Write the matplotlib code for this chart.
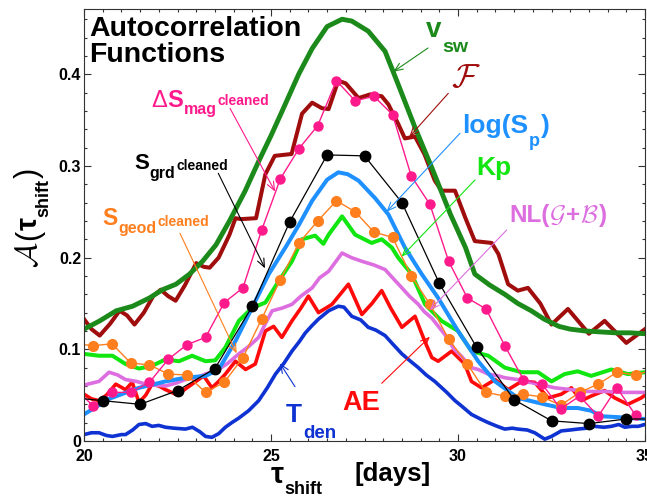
import matplotlib
matplotlib.use('Agg')
import matplotlib.pyplot as plt
from matplotlib.ticker import MultipleLocator

W, H = 647, 497

# ---- data (tau_shift in days, autocorrelation) ----
half_days = [20.25, 20.75, 21.25, 21.75, 22.25, 22.75, 23.25, 23.75, 24.25, 24.75,
             25.25, 25.75, 26.25, 26.75, 27.25, 27.75, 28.25, 28.75, 29.25, 29.75,
             30.25, 30.75, 31.25, 31.75, 32.25, 32.75, 33.25, 33.75, 34.25, 34.75]

vsw_x = [20.0, 20.42, 20.86, 21.3, 21.75, 22.1, 22.46, 22.82, 23.17, 23.53, 23.89, 24.3,
         24.67, 25.0, 25.3, 25.74, 26.1, 26.5, 26.9, 27.16, 27.6, 28.05, 28.4, 28.85,
         29.3, 29.8, 30.2, 30.45, 30.85, 31.25, 31.6, 31.96, 32.3, 32.7, 33.0, 33.4,
         33.8, 34.2, 34.6, 35.0]
vsw_y = [0.122, 0.131, 0.142, 0.147, 0.156, 0.165, 0.171, 0.182, 0.196, 0.214, 0.240, 0.272,
         0.305, 0.333, 0.360, 0.400, 0.428, 0.452, 0.460, 0.458, 0.447, 0.425, 0.389, 0.342,
         0.298, 0.247, 0.211, 0.182, 0.170, 0.160, 0.150, 0.142, 0.133, 0.125, 0.122, 0.120,
         0.119, 0.118, 0.118, 0.117]

f_x = [20.0, 20.2, 20.42, 20.7, 20.95, 21.15, 21.35, 21.6, 21.85, 22.05, 22.25, 22.45,
       22.7, 23.0, 23.2, 23.36, 23.6, 23.89, 24.05, 24.2, 24.6, 24.85, 25.1, 25.55,
       25.83, 26.1, 26.36, 26.54, 26.8, 27.0, 27.34, 27.65, 27.96, 28.14, 28.4, 28.58,
       28.85, 29.1, 29.38, 29.56, 29.92, 30.2, 30.45, 30.9, 31.08, 31.34, 31.6, 31.87,
       32.2, 32.5, 32.94, 33.5, 33.92, 34.5, 35.0]
f_y = [0.133, 0.122, 0.115, 0.128, 0.142, 0.137, 0.127, 0.140, 0.158, 0.165, 0.158, 0.153,
       0.170, 0.194, 0.190, 0.189, 0.200, 0.225, 0.243, 0.242, 0.243, 0.291, 0.311, 0.313,
       0.357, 0.369, 0.363, 0.362, 0.393, 0.390, 0.374, 0.378, 0.376, 0.367, 0.346, 0.330,
       0.332, 0.313, 0.284, 0.273, 0.273, 0.243, 0.218, 0.216, 0.204, 0.171, 0.164, 0.167,
       0.150, 0.127, 0.144, 0.117, 0.131, 0.107, 0.122]

mag_x = [20.0] + half_days
mag_y = [0.048, 0.038, 0.053, 0.053, 0.064, 0.089, 0.105, 0.113, 0.151, 0.167, 0.230,
         0.286, 0.319, 0.344, 0.393, 0.371, 0.376, 0.356, 0.289, 0.258, 0.196,
         0.156, 0.144, 0.104, 0.067, 0.062, 0.035, 0.049, 0.027, 0.058, 0.028]

grd_x = [20.0, 20.5, 21.5, 22.5, 23.5, 24.5, 25.5, 26.5, 27.5, 28.5, 29.5, 30.5,
         31.5, 32.5, 33.5, 34.5, 35.0]
grd_y = [0.046, 0.044, 0.040, 0.055, 0.079, 0.147, 0.239, 0.312, 0.311, 0.260, 0.172, 0.102,
         0.045, 0.022, 0.019, 0.024, 0.024]

geod_x = [20.0] + half_days + [35.0]
geod_y = [0.105, 0.104, 0.106, 0.085, 0.083, 0.073, 0.072, 0.053, 0.064, 0.091, 0.133,
          0.176, 0.216, 0.240, 0.262, 0.250, 0.228, 0.222, 0.180, 0.149, 0.111,
          0.084, 0.053, 0.049, 0.051, 0.048, 0.039, 0.053, 0.062, 0.075, 0.072, 0.075]

logsp_x = [20.0, 20.67, 21.47, 22.18, 22.71, 23.25, 23.6, 24.05, 24.49, 24.94, 25.4, 25.75,
           26.1, 26.5, 26.8, 27.05, 27.34, 27.78, 28.14, 28.58, 29.03, 29.47, 30.0, 30.54,
           30.99, 31.6, 32.32, 32.76, 33.2, 33.56, 33.83, 34.28, 35.0]
logsp_y = [0.029, 0.046, 0.058, 0.065, 0.069, 0.071, 0.078, 0.109, 0.145, 0.182, 0.212, 0.236,
           0.262, 0.285, 0.293, 0.291, 0.284, 0.265, 0.247, 0.211, 0.182, 0.156, 0.120, 0.087,
           0.065, 0.047, 0.040, 0.036, 0.036, 0.033, 0.027, 0.026, 0.024]

kp_x = [20.0, 20.4, 20.76, 21.11, 21.47, 21.82, 22.18, 22.54, 22.89, 23.25, 23.51, 23.78,
        24.14, 24.49, 24.85, 25.2, 25.56, 25.83, 26.18, 26.4, 26.54, 26.9, 27.25, 27.69,
        27.96, 28.23, 28.4, 28.76, 29.12, 29.56, 30.0, 30.36, 30.81, 31.25, 31.7, 32.14,
        32.5, 32.85, 33.2, 33.56, 34.1, 34.54, 35.0]
kp_y = [0.095, 0.093, 0.093, 0.084, 0.079, 0.082, 0.089, 0.087, 0.093, 0.087, 0.088, 0.102,
        0.131, 0.145, 0.151, 0.174, 0.196, 0.220, 0.224, 0.215, 0.225, 0.245, 0.225, 0.216,
        0.220, 0.211, 0.200, 0.182, 0.149, 0.131, 0.120, 0.098, 0.093, 0.080, 0.075, 0.075,
        0.065, 0.073, 0.076, 0.071, 0.078, 0.073, 0.075]

nl_x = [20.0, 20.4, 20.67, 20.9, 21.11, 21.4, 21.65, 21.9, 22.18, 22.45, 22.71, 23.0,
        23.25, 23.6, 23.85, 24.14, 24.4, 24.67, 24.85, 25.03, 25.3, 25.56, 25.8, 26.1,
        26.3, 26.54, 26.9, 27.15, 27.43, 27.75, 28.05, 28.25, 28.5, 28.7, 28.94, 29.1,
        29.3, 29.65, 29.9, 30.1, 30.36, 30.54, 30.81, 31.08, 31.25, 31.6, 32.14, 32.59,
        33.03, 33.47, 33.92, 34.46, 35.0]
nl_y = [0.061, 0.065, 0.075, 0.072, 0.067, 0.065, 0.062, 0.061, 0.060, 0.063, 0.067, 0.069,
        0.073, 0.078, 0.085, 0.095, 0.103, 0.113, 0.128, 0.142, 0.145, 0.149, 0.158, 0.167,
        0.178, 0.185, 0.205, 0.200, 0.196, 0.192, 0.187, 0.178, 0.167, 0.158, 0.149, 0.141,
        0.134, 0.116, 0.100, 0.092, 0.080, 0.078, 0.073, 0.071, 0.069, 0.067, 0.062, 0.058,
        0.056, 0.054, 0.054, 0.053, 0.053]

ae_x = [20.0, 20.2, 20.4, 20.6, 20.85, 21.11, 21.29, 21.47, 21.65, 21.82, 22.0, 22.18,
        22.45, 22.65, 22.89, 23.2, 23.42, 23.6, 23.78, 24.05, 24.32, 24.58, 24.85, 25.07,
        25.29, 25.56, 25.8, 26.0, 26.27, 26.63, 27.07, 27.43, 27.7, 27.96, 28.2, 28.5,
        28.85, 29.1, 29.3, 29.47, 29.83, 30.18, 30.36, 30.63, 30.99, 31.34, 31.7, 32.05,
        32.41, 32.76, 33.03, 33.3, 33.56, 33.92, 34.19, 34.54, 34.9, 35.0]
ae_y = [0.051, 0.046, 0.044, 0.050, 0.062, 0.056, 0.064, 0.042, 0.050, 0.062, 0.060, 0.056,
        0.051, 0.055, 0.062, 0.071, 0.058, 0.065, 0.073, 0.087, 0.078, 0.084, 0.120, 0.125,
        0.113, 0.131, 0.145, 0.158, 0.140, 0.149, 0.171, 0.138, 0.150, 0.164, 0.145, 0.124,
        0.136, 0.110, 0.091, 0.087, 0.098, 0.084, 0.065, 0.058, 0.067, 0.056, 0.065, 0.064,
        0.047, 0.051, 0.058, 0.044, 0.049, 0.055, 0.047, 0.040, 0.047, 0.050]

tden_x = [20.0, 20.2, 20.4, 20.6, 20.76, 21.0, 21.11, 21.3, 21.47, 21.65, 21.82, 22.0,
          22.18, 22.4, 22.71, 22.9, 23.1, 23.25, 23.42, 23.6, 23.78, 23.95, 24.14, 24.4,
          24.67, 24.9, 25.12, 25.35, 25.56, 25.75, 25.92, 26.1, 26.27, 26.54, 26.8, 26.95,
          27.16, 27.4, 27.6, 27.8, 28.05, 28.25, 28.5, 28.7, 28.94, 29.15, 29.38, 29.7,
          29.92, 30.1, 30.36, 30.6, 30.81, 31.05, 31.25, 31.45, 31.6, 31.85, 32.05, 32.32,
          32.5, 32.76, 33.0, 33.2, 33.45, 33.65, 33.9, 34.1, 34.3, 34.46, 34.65, 34.82, 35.0]
tden_y = [0.007, 0.009, 0.009, 0.006, 0.005, 0.007, 0.007, 0.012, 0.018, 0.019, 0.016, 0.017,
          0.015, 0.014, 0.013, 0.015, 0.010, 0.005, 0.004, 0.008, 0.015, 0.020, 0.025, 0.033,
          0.044, 0.058, 0.073, 0.085, 0.098, 0.108, 0.118, 0.126, 0.133, 0.142, 0.147, 0.146,
          0.136, 0.132, 0.124, 0.121, 0.115, 0.106, 0.095, 0.088, 0.080, 0.072, 0.065, 0.053,
          0.044, 0.038, 0.029, 0.024, 0.020, 0.016, 0.013, 0.014, 0.013, 0.012, 0.009, 0.002,
          0.005, 0.011, 0.012, 0.013, 0.014, 0.016, 0.015, 0.016, 0.018, 0.015, 0.016, 0.016,
          0.018]

x_ticks = [20, 25, 30, 35]
x_tick_labels = ['20', '25', '30', '35']
y_ticks = [0, 0.1, 0.2, 0.3, 0.4]
y_tick_labels = ['0', '0.1', '0.2', '0.3', '0.4']

C_VSW = '#1b8a1b'
C_F = '#a00d0d'
C_MAG = '#ff1a8c'
C_GRD = 'black'
C_GEOD = '#ff7f1e'
C_LOGSP = '#1e90ff'
C_KP = '#11e611'
C_NL = '#dd6ee0'
C_AE = '#ff0a0a'
C_TDEN = '#0f32d2'

plt.rcParams['font.family'] = ['Liberation Sans', 'DejaVu Sans']
plt.rcParams['font.weight'] = 'bold'

fig = plt.figure(figsize=(W / 100, H / 100), dpi=100)
ax = fig.add_axes([84 / W, 56 / H, 561 / W, 432.5 / H])

# curves, back to front
ax.plot(tden_x, tden_y, color=C_TDEN, lw=2.6)
ax.plot(ae_x, ae_y, color=C_AE, lw=2.6)
ax.plot(nl_x, nl_y, color=C_NL, lw=2.6)
ax.plot(kp_x, kp_y, color=C_KP, lw=2.9)
ax.plot(logsp_x, logsp_y, color=C_LOGSP, lw=2.9)
ax.plot(f_x, f_y, color=C_F, lw=2.9)
ax.plot(vsw_x, vsw_y, color=C_VSW, lw=3.5)
ax.plot(geod_x, geod_y, color=C_GEOD, lw=1.0, marker='o', ms=7, markevery=slice(1, -1))
ax.plot(mag_x, mag_y, color=C_MAG, lw=1.0, marker='o', ms=6.5, markevery=slice(1, None))
ax.plot(grd_x, grd_y, color=C_GRD, lw=0.9, marker='o', ms=7.5, markevery=slice(1, -1))

ax.set_xlim(20, 35)
ax.set_ylim(0, 0.4717)
ax.set_xticks(x_ticks, x_tick_labels)
ax.set_yticks(y_ticks, y_tick_labels)
ax.xaxis.set_minor_locator(MultipleLocator(0.5))
ax.yaxis.set_minor_locator(MultipleLocator(0.02))
ax.tick_params(which='both', direction='in', top=True, right=True, width=0.8, color='#333333')
ax.tick_params(which='major', length=5)
ax.tick_params(which='minor', length=2.5)
ax.tick_params(axis='x', labelsize=11.5, pad=6)
ax.tick_params(axis='y', labelsize=11.5, pad=2)
for s in ax.spines.values():
    s.set_linewidth(0.8)
    s.set_color('#333333')

renderer = fig.canvas.get_renderer()


def chain(px, py, pieces, color, vertical=False):
    # pieces: (text, size, drop in px below baseline, gap in px, weight)
    pos = px if not vertical else py
    for s, size, dy, dx, wt in pieces:
        if vertical:
            t = fig.text((px + dy) / W, 1 - (pos - dx) / H, s, fontsize=size, color=color,
                         fontweight=wt, va='baseline', ha='left', rotation=90,
                         rotation_mode='anchor', math_fontfamily='cm')
            pos = H - t.get_window_extent(renderer).y1
        else:
            t = fig.text((pos + dx) / W, 1 - (py + dy) / H, s, fontsize=size, color=color,
                         fontweight=wt, va='baseline', ha='left', math_fontfamily='cm')
            pos = t.get_window_extent(renderer).x1


def arrow(px, py, tip, color):
    ax.annotate('', xy=tip, xycoords='data', xytext=(px, H - py), textcoords='figure pixels',
                arrowprops=dict(arrowstyle='->,head_length=0.6,head_width=0.25',
                                color=color, lw=0.8, shrinkA=0, shrinkB=0))


B = 'bold'
N = 'normal'
chain(89, 35.5, [('Autocorrelation', 20.5, 0, 0, B)], 'black')
chain(89, 62.5, [('Functions', 20.5, 0, 0, B)], 'black')

chain(426, 37, [('v', 20, 0, 0, B), ('sw', 14, 15, 1, B)], C_VSW)
arrow(428, 48, (28.27, 0.4027), C_VSW)

chain(451, 87, [(r'$\mathcal{F}$', 24, 0, 0, B)], C_F)
arrow(448.3, 93.3, (28.70, 0.3318), C_F)

chain(462, 133.3, [('log(S', 19, 0, 0, B), ('p', 13, 13, 1, B), (')', 19, 0, 1, B)], C_LOGSP)
arrow(460, 133.3, (28.09, 0.250), C_LOGSP)

chain(476, 175, [('Kp', 19, 0, 0, B)], C_KP)
arrow(475, 180, (28.49, 0.201), C_KP)

chain(509, 221.7, [('NL(', 17.5, 0, 0, B), (r'$\mathcal{G}$', 18, 0, 0, B),
                   ('+', 17.5, 0, 0, B), (r'$\mathcal{B}$', 18, 0, 0, B),
                   (')', 17.5, 0, 0, B)], C_NL)
arrow(506.7, 230, (29.25, 0.1429), C_NL)

chain(342, 410, [('AE', 19.5, 0, 0, B)], C_AE)
arrow(381.7, 383.3, (29.25, 0.1137), C_AE)

chain(286, 421.7, [('T', 19, 0, 0, B), ('den', 13.5, 16, 1, B)], C_TDEN)
arrow(295, 386.7, (25.24, 0.0847), C_TDEN)

chain(151, 106.7, [('\u0394', 17, 0, 0, N), ('S', 17, 0, 0, B),
                   ('mag', 11.5, 7, 1, B), ('cleaned', 10, -2, 1, B)], C_MAG)
arrow(230, 108.3, (25.11, 0.272), C_MAG)

chain(134, 169, [('S', 16, 0, 0, B), ('grd', 11.5, 9, 1, B), ('cleaned', 10, 1, 1, B)], C_GRD)
arrow(218.3, 173.3, (24.84, 0.1883), C_GRD)

chain(102.5, 225, [('S', 16.5, 0, 0, B), ('geod', 11.5, 8, 1, B), ('cleaned', 10, 1, 1, B)], C_GEOD)
arrow(180, 233.3, (24.08, 0.0956), C_GEOD)

# axis titles
chain(271, 483, [('\u03c4', 21, 0, 0, B), ('shift', 13, 11, 0, B)], 'black')
chain(354, 481.5, [('[days]', 18.5, 0, 0, B)], 'black')
chain(37, 268, [(r'$\mathcal{A}$', 22, 0, 0, N), ('(', 22, 0, 1, N), ('\u03c4', 21, 0, 0, B),
                ('shift', 13, 11, 0, B), (')', 22, 0, 1, N)], 'black', vertical=True)

fig.savefig('out.png', dpi=100)
